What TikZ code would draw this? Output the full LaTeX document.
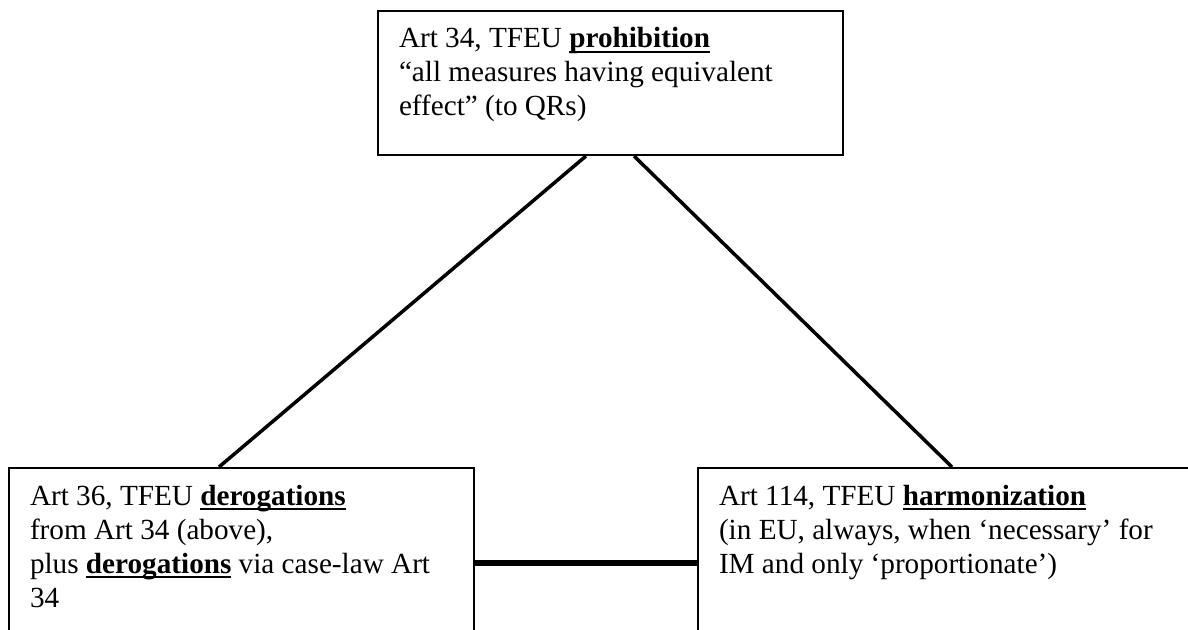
\documentclass[tikz,border=0pt]{standalone}
\usepackage{fontspec}
\setmainfont{Liberation Serif}
\newcommand{\ulbf}[1]{\setbox0\hbox{\textbf{#1}}\rlap{\rule[-2.6pt]{\wd0}{1pt}}\box0\relax}
\newcommand{\boxtext}[3]{\parbox[c][#1][t]{#2}{\raggedright\rule{0pt}{18.5pt}#3}}
\begin{document}
\begin{tikzpicture}[x=0.5pt,y=-0.5pt,box node/.style={draw,line width=1pt,anchor=north west,inner xsep=10.5pt,inner ysep=0pt,font=\fontsize{14.6}{17}\selectfont},link/.style={line width=1.75pt},bar/.style={line width=2.6pt}]
                \useasboundingbox (0,0) rectangle (1188,630);
                \node[box node] at (377, 10) (prohib) {\boxtext{72pt}{211.5pt}{Art 34, TFEU \ulbf{prohibition}\\“all measures having equivalent\\effect” (to QRs)}};
                \node[box node] at (8, 467) (derog) {\boxtext{100pt}{211.5pt}{Art 36, TFEU \ulbf{derogations}\\from Art 34 (above),\\plus \ulbf{derogations} via case-law Art\\34}};
                \node[box node] at (697, 467) (harmon) {\boxtext{100pt}{239pt}{Art 114, TFEU \ulbf{harmonization}\\(in EU, always, when ‘necessary’ for\\IM and only ‘proportionate’)}};

                \path[link] ([xshift=-12.25pt]prohib.south) edge ([xshift=-11.25pt]derog.north);
                \path[link] ([xshift=11.75pt]prohib.south) edge ([xshift=127.5pt]harmon.north west);
                \path[bar] ([yshift=-48pt]derog.north east) edge ([yshift=-48pt]harmon.north west);
            \end{tikzpicture}
\end{document}
